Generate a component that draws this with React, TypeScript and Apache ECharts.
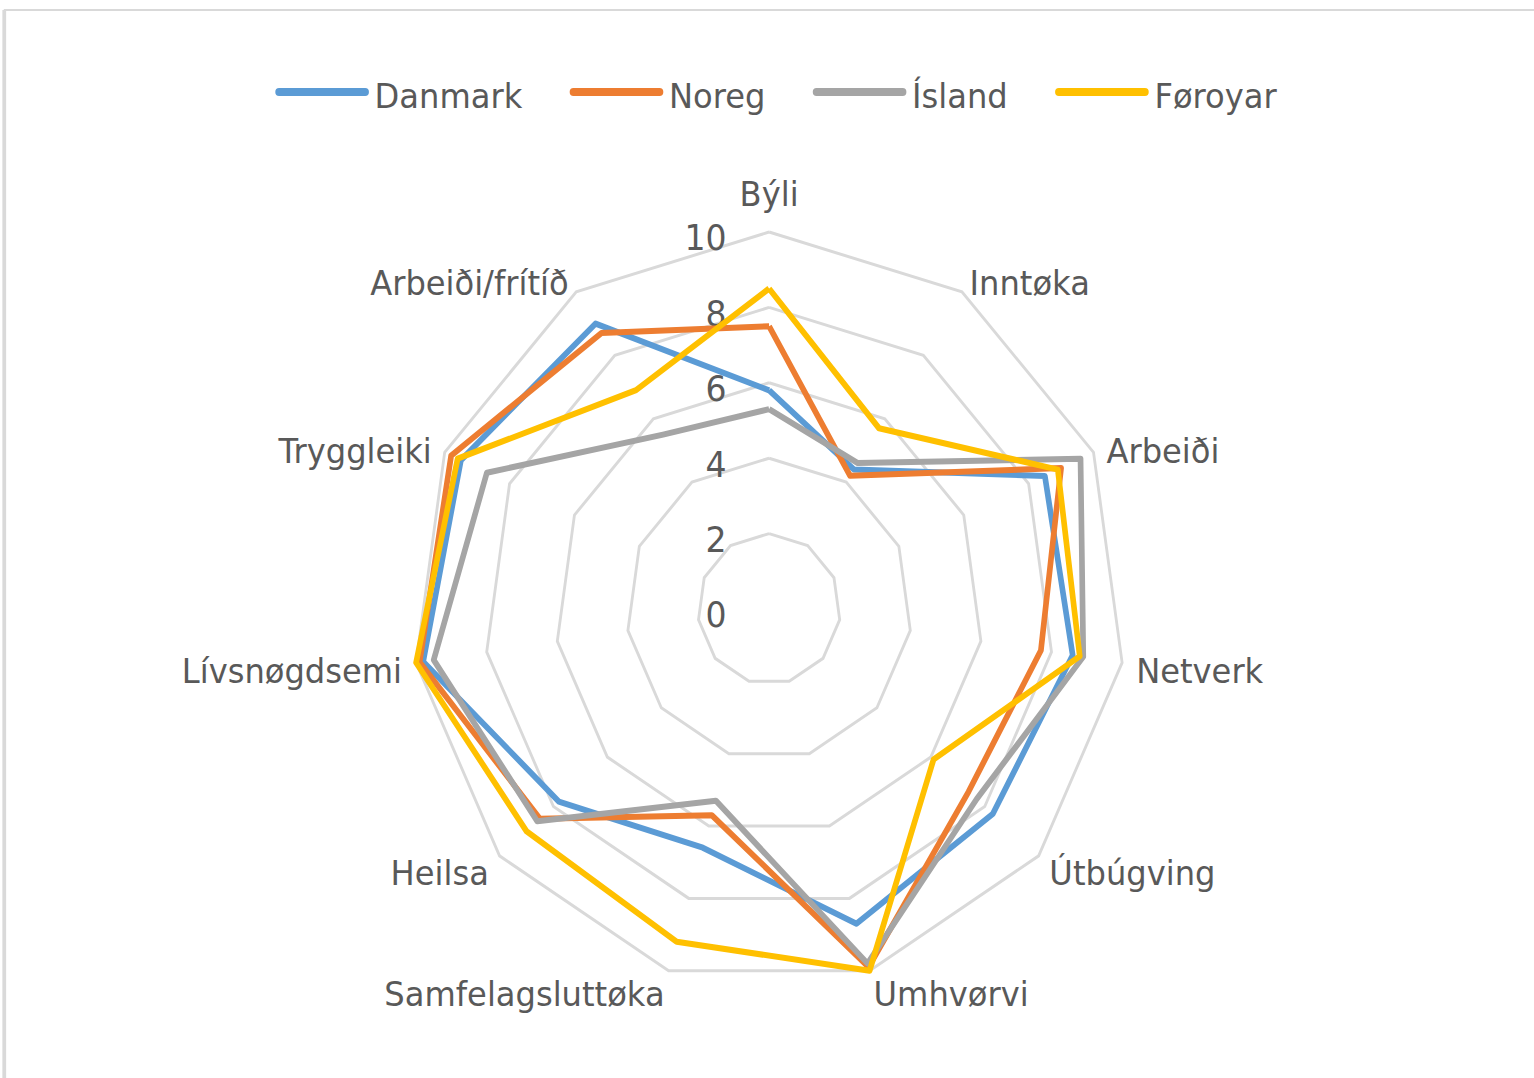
import React, { useEffect, useRef } from "react";
import * as echarts from "echarts";

// ---- data (clockwise from the top, as in the reference) ----
const indicators = [
  "Býli",
  "Inntøka",
  "Arbeiði",
  "Netverk",
  "Útbúgving",
  "Umhvørvi",
  "Samfelagsluttøka",
  "Heilsa",
  "Lívsnøgdsemi",
  "Tryggleiki",
  "Arbeiði/frítíð",
];
const danmark = [5.8, 4.4, 8.5, 8.6, 8.3, 8.7, 6.6, 7.8, 9.8, 9.5, 9.0];
const noreg = [7.5, 4.2, 9.0, 7.7, 7.4, 9.9, 5.7, 8.5, 9.9, 9.8, 8.7];
const island = [5.3, 4.6, 9.6, 8.9, 7.7, 9.8, 5.3, 8.6, 9.5, 8.7, 5.5];
const foroyar = [8.5, 5.7, 8.9, 8.8, 6.1, 10.0, 9.2, 9.0, 10.0, 9.6, 6.9];
const seriesNames = ["Danmark", "Noreg", "Ísland", "Føroyar"];
const seriesValues = [danmark, noreg, island, foroyar];
const colors = ["#5B9BD5", "#ED7D31", "#A5A5A5", "#FFC000"];
const axisMin = 0;
const axisMax = 10;
const splitCount = 5;

// the reference picture is slightly compressed horizontally
const SX = 0.946;
const H = 1078;
const W = Math.round(1534 / SX);
const FONT = "DejaVu Sans";
const TEXT = "#595959";
const NAME_GAP = 15;

export default function App() {
  const ref = useRef<HTMLDivElement>(null);

  useEffect(() => {
    if (!ref.current) return;
    const chart = echarts.init(ref.current, null, { renderer: "svg" });

    // ECharts places indicators counter-clockwise; reverse all but the first
    const n = indicators.length;
    const order = [0, ...indicators.slice(1).map((_, i) => n - 1 - i)];

    const option: any = {
      animation: false,
      backgroundColor: "#ffffff",
      textStyle: { fontFamily: FONT, color: TEXT },
      graphic: [
        {
          type: "line",
          silent: true,
          shape: { x1: 4, y1: 10, x2: W, y2: 10 },
          style: { stroke: "#d9d9d9", lineWidth: 2 },
        },
        {
          type: "line",
          silent: true,
          shape: { x1: 4.5, y1: 10, x2: 4.5, y2: H },
          style: { stroke: "#d9d9d9", lineWidth: 4 },
        },
      ],
      legend: {
        left: 286,
        top: 74,
        itemWidth: 99,
        itemHeight: 16,
        itemGap: 50,
        icon: "path://M4,0L95,0A4,4,0,0,1,95,8L4,8A4,4,0,0,1,4,0Z M0,16L0.1,16Z",
        itemStyle: { borderWidth: 0 },
        textStyle: {
          fontFamily: FONT,
          fontSize: 34,
          color: TEXT,
          padding: [8, 0, 0, 1],
        },
        data: seriesNames,
      },
      radar: {
        center: [813, 609],
        radius: 377,
        startAngle: 90,
        shape: "polygon",
        splitNumber: splitCount,
        axisNameGap: NAME_GAP,
        axisName: {
          color: TEXT,
          fontFamily: FONT,
          fontSize: 34,
        },
        axisLine: { show: false },
        axisTick: { show: false },
        splitArea: { show: false },
        splitLine: { lineStyle: { color: "#d9d9d9", width: 3 } },
        axisLabel: {
          show: false,
          color: TEXT,
          fontFamily: FONT,
          fontSize: 35,
          margin: 45,
          verticalAlign: "top",
          lineHeight: 12,
        },
        indicator: order.map((k, j) => {
          const ind: any = { name: indicators[k], min: axisMin, max: axisMax };
          if (j === 0) {
            ind.axisLabel = { show: true };
            ind.nameTextStyle = { lineHeight: 46 };
          } else {
            // nudge names a little below their anchor, as in the reference
            const dirY = -Math.cos((k * 2 * Math.PI) / n);
            ind.nameTextStyle = {
              verticalAlign: "top",
              lineHeight: Math.max(2, 12 + 6 * dirY),
            };
          }
          return ind;
        }),
      },
      series: seriesValues.map((vals, i) => ({
        type: "radar",
        name: seriesNames[i],
        symbol: "none",
        silent: true,
        z: 2 + i,
        itemStyle: { color: colors[i] },
        lineStyle: { color: colors[i], width: 6 },
        emphasis: { disabled: true },
        data: [{ name: seriesNames[i], value: order.map((k) => vals[k]) }],
      })),
    };

    chart.setOption(option);
    return () => chart.dispose();
  }, []);

  return (
    <div
      ref={ref}
      style={{
        position: "absolute",
        left: 0,
        top: 0,
        width: W,
        height: H,
        transform: `scaleX(${SX})`,
        transformOrigin: "0 0",
        background: "#ffffff",
      }}
    />
  );
}
